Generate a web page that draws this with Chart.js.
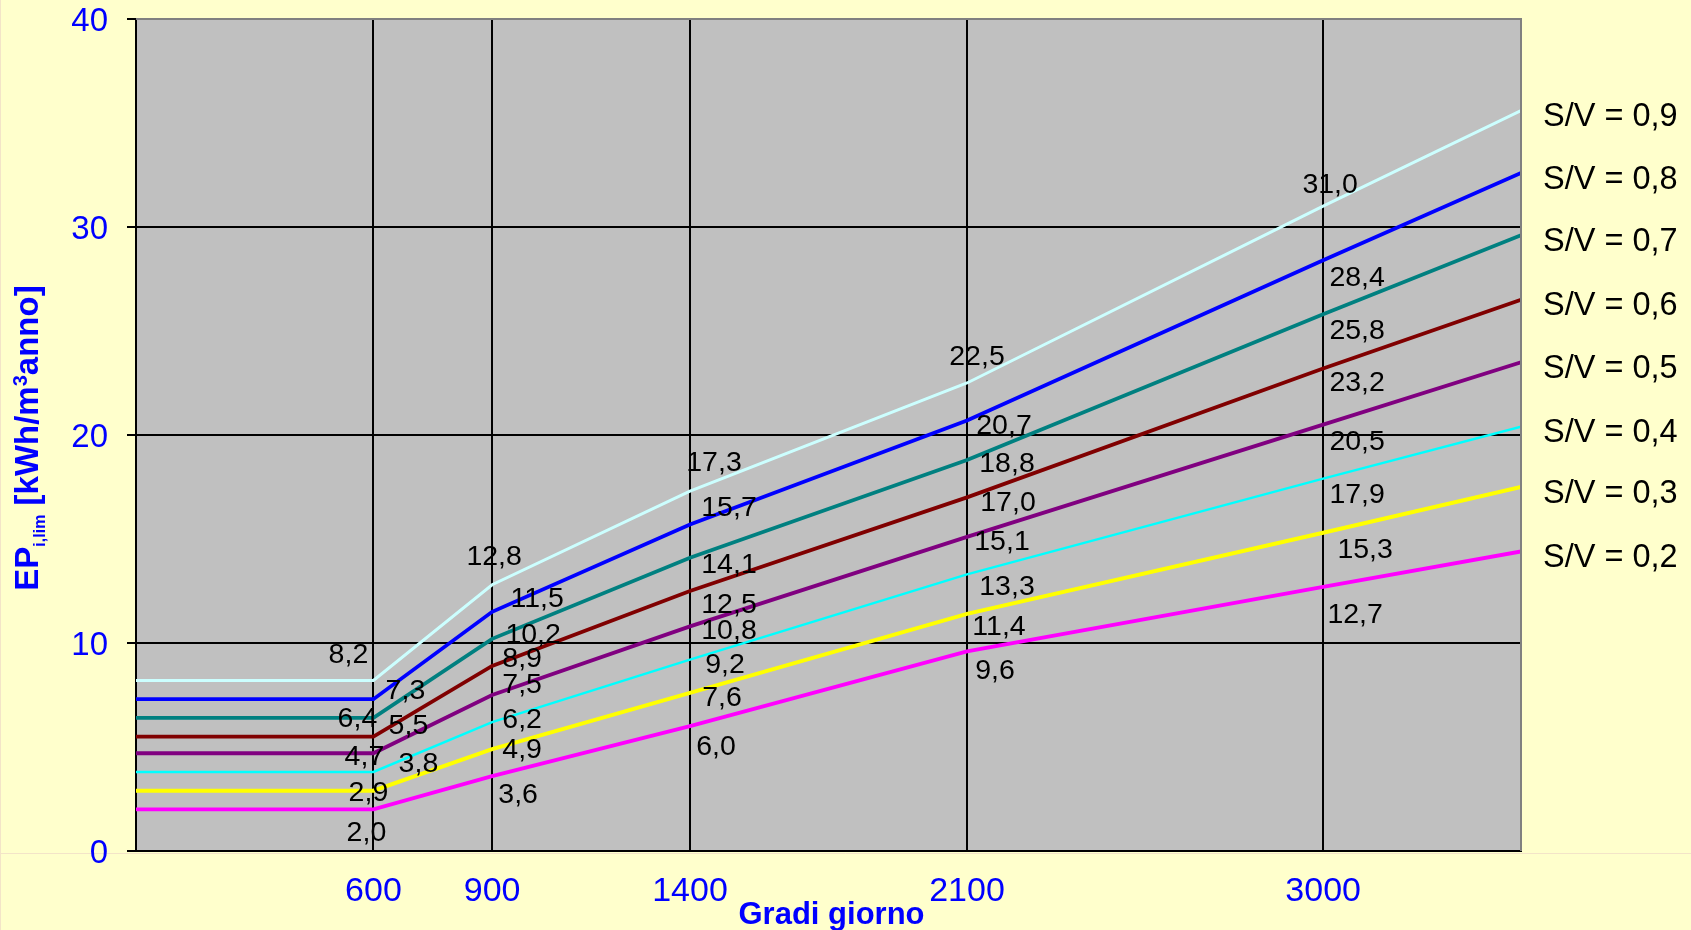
<!DOCTYPE html>
<html>
<head>
<meta charset="utf-8">
<script src="https://cdn.jsdelivr.net/npm/chart.js@4/dist/chart.umd.min.js"></script>
<style>
  html, body { margin: 0; padding: 0; background: #FFFFCC; }
  #wrap { width: 1691px; height: 930px; position: relative; }
</style>
</head>
<body>
<div id="wrap"><canvas id="c" width="1691" height="930"></canvas></div>
<script>
// ---- data ----
const gradiGiorno = [0, 600, 900, 1400, 2100, 3000, 3500];
const xTickValues = [600, 900, 1400, 2100, 3000];
const yTickValues = [0, 10, 20, 30, 40];
const seriesNames = ['S/V = 0,9', 'S/V = 0,8', 'S/V = 0,7', 'S/V = 0,6', 'S/V = 0,5', 'S/V = 0,4', 'S/V = 0,3', 'S/V = 0,2'];
const sv09 = [8.2, 8.2, 12.8, 17.3, 22.5, 31.0, 35.6];
const sv08 = [7.3, 7.3, 11.5, 15.7, 20.7, 28.4, 32.6];
const sv07 = [6.4, 6.4, 10.2, 14.1, 18.8, 25.8, 29.6];
const sv06 = [5.5, 5.5, 8.9, 12.5, 17.0, 23.2, 26.5];
const sv05 = [4.7, 4.7, 7.5, 10.8, 15.1, 20.5, 23.5];
const sv04 = [3.8, 3.8, 6.2, 9.2, 13.3, 17.9, 20.4];
const sv03 = [2.9, 2.9, 4.9, 7.6, 11.4, 15.3, 17.5];
const sv02 = [2.0, 2.0, 3.6, 6.0, 9.6, 12.7, 14.4];
const labelledIndices = [1, 2, 3, 4, 5];

// ---- styles ----
const seriesValues = [sv09, sv08, sv07, sv06, sv05, sv04, sv03, sv02];
const seriesColors = ['#CCFFFF', '#0000FF', '#008080', '#800000', '#800080', '#00FFFF', '#FFFF00', '#FF00FF'];
const seriesWidths = [3, 3.8, 3.8, 3.8, 3.8, 2.4, 3.9, 3.8];
// label offsets (px) from each labelled point, per series, per labelled column
const labelOffsets = [
  [[-25,-28], [2,-30], [24,-30], [10,-28], [7,-23]],
  [[32,-10], [45,-15], [39,-19], [37,3], [34,16]],
  [[-16,-1], [41,-6], [39,5], [40,2], [34,14]],
  [[35,-13], [30,-9], [39,12], [41,3], [34,12]],
  [[-9,2], [30,-12], [39,2], [35,3], [34,15]],
  [[45,-10], [30,-4], [35,3], [40,10], [34,14]],
  [[-5,0], [30,-1], [32,3], [32,11], [42,15]],
  [[-7,21], [26,17], [26,19], [28,17], [32,26]]
];
const FONT = '"Liberation Sans", Arial, Helvetica, sans-serif';

const datasets = seriesValues.map((vals, i) => ({
  label: seriesNames[i],
  data: gradiGiorno.map((g, k) => ({ x: g, y: vals[k] })),
  borderColor: seriesColors[i],
  backgroundColor: seriesColors[i],
  borderWidth: seriesWidths[i],
  pointRadius: 0,
  tension: 0,
  fill: false
}));

const decoPlugin = {
  id: 'deco',
  beforeDraw(chart) {
    const { ctx, chartArea: a } = chart;
    ctx.save();
    ctx.fillStyle = '#FFFFCC';
    ctx.fillRect(0, 0, chart.width, chart.height);
    ctx.strokeStyle = '#F3E4C8';
    ctx.lineWidth = 1;
    ctx.beginPath(); ctx.moveTo(0, a.bottom + 2.5); ctx.lineTo(chart.width, a.bottom + 2.5); ctx.stroke();
    ctx.beginPath(); ctx.moveTo(0.5, 0); ctx.lineTo(0.5, chart.height); ctx.stroke();
    ctx.fillStyle = '#C0C0C0';
    ctx.fillRect(a.left, a.top, a.right - a.left, a.bottom - a.top);
    ctx.restore();
  },
  afterDatasetsDraw(chart) {
    const { ctx } = chart;
    const xs = chart.scales.x, ys = chart.scales.y;
    ctx.save();
    ctx.fillStyle = '#000000';
    ctx.textAlign = 'center';
    ctx.textBaseline = 'alphabetic';
    const fs = 28.5;
    ctx.font = fs + 'px ' + FONT;
    seriesValues.forEach((vals, i) => {
      labelledIndices.forEach((k, j) => {
        const px = xs.getPixelForValue(gradiGiorno[k]);
        const py = ys.getPixelForValue(vals[k]);
        const off = labelOffsets[i][j];
        const txt = vals[k].toFixed(1).replace('.', ',');
        ctx.fillText(txt, px + off[0], py + off[1] + 0.358 * fs);
      });
    });
    const ls = 32.5;
    ctx.font = ls + 'px ' + FONT;
    ctx.textAlign = 'left';
    seriesValues.forEach((vals, i) => {
      const py = ys.getPixelForValue(vals[vals.length - 1]);
      ctx.fillText(seriesNames[i], chart.chartArea.right + 22, py + 4 + 0.358 * ls);
    });
    ctx.restore();
  },
  afterDraw(chart) {
    const { ctx, chartArea: a } = chart;
    ctx.save();
    ctx.strokeStyle = '#808080';
    ctx.lineWidth = 2;
    ctx.beginPath();
    ctx.moveTo(a.left, a.top);
    ctx.lineTo(a.right, a.top);
    ctx.lineTo(a.right, a.bottom);
    ctx.stroke();
    ctx.fillStyle = '#0000FF';
    ctx.font = 'bold 31px ' + FONT;
    ctx.textAlign = 'center';
    ctx.textBaseline = 'alphabetic';
    ctx.fillText('Gradi giorno', (a.left + a.right) / 2 + 3, 924);
    const parts = [
      { t: 'EP', f: 'bold 33px ' + FONT, dy: 0 },
      { t: 'i,lim', f: 'bold 16px ' + FONT, dy: 7 },
      { t: ' [kWh/m', f: 'bold 33px ' + FONT, dy: 0 },
      { t: '3', f: 'bold 20px ' + FONT, dy: -11 },
      { t: 'anno]', f: 'bold 33px ' + FONT, dy: 0 }
    ];
    let total = 0;
    parts.forEach(p => { ctx.font = p.f; p.w = ctx.measureText(p.t).width; total += p.w; });
    ctx.translate(38, (a.top + a.bottom) / 2 + 3);
    ctx.rotate(-Math.PI / 2);
    ctx.textAlign = 'left';
    let cx = -total / 2;
    parts.forEach(p => { ctx.font = p.f; ctx.fillText(p.t, cx, p.dy); cx += p.w; });
    ctx.restore();
  }
};

new Chart(document.getElementById('c'), {
  type: 'line',
  data: { datasets },
  options: {
    responsive: false,
    animation: false,
    devicePixelRatio: 1,
    layout: { padding: { left: 0, top: 0, right: 170, bottom: 0 } },
    plugins: { legend: { display: false }, tooltip: { enabled: false }, title: { display: false } },
    scales: {
      x: {
        type: 'linear',
        min: 0,
        max: 3500,
        afterBuildTicks: (s) => { s.ticks = xTickValues.map(v => ({ value: v })); },
        afterFit: (s) => { s.height = 79; },
        grid: { color: '#000000', lineWidth: 2, drawTicks: false },
        border: { color: '#000000', width: 2 },
        ticks: {
          color: '#0000FF',
          font: { family: FONT, size: 34, lineHeight: 1.2 },
          padding: 20,
          maxRotation: 0,
          autoSkip: false,
          callback: (v) => String(v)
        }
      },
      y: {
        type: 'linear',
        min: 0,
        max: 40,
        afterBuildTicks: (s) => { s.ticks = yTickValues.map(v => ({ value: v })); },
        afterFit: (s) => { s.width = 136; s.paddingTop = 19; s.paddingBottom = 19; },
        grid: {
          color: (c) => (c.tick && c.tick.value === 40) ? 'rgba(0,0,0,0)' : '#000000',
          lineWidth: 2,
          drawTicks: true,
          tickLength: 9,
          tickColor: '#000000'
        },
        border: { color: '#000000', width: 2 },
        ticks: {
          color: '#0000FF',
          font: { family: FONT, size: 33, lineHeight: '6px' },
          padding: 19,
          callback: (v) => ['', String(v)]
        }
      }
    }
  },
  plugins: [decoPlugin]
});
</script>
</body>
</html>
